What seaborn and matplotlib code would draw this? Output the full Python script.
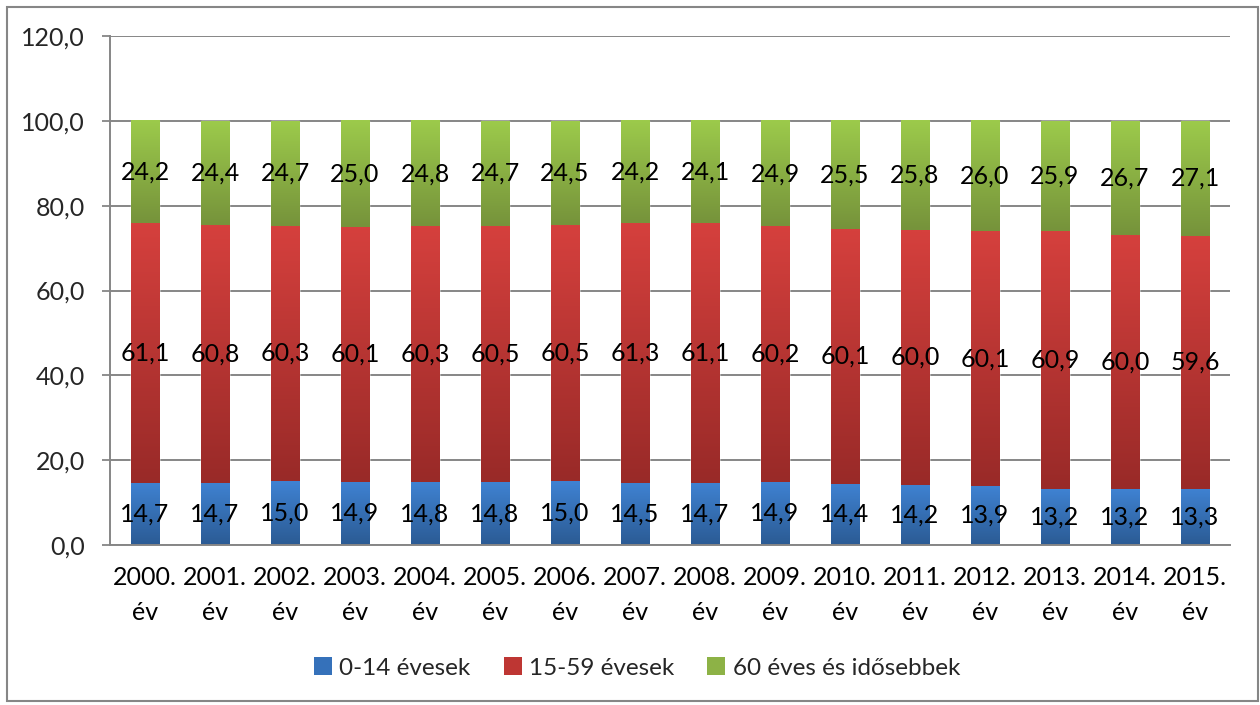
import numpy as np
import pandas as pd
import matplotlib
matplotlib.use("Agg")
import matplotlib.pyplot as plt
import seaborn as sns
from matplotlib.patches import Rectangle, Patch

years = ["2000.", "2001.", "2002.", "2003.", "2004.", "2005.", "2006.", "2007.",
         "2008.", "2009.", "2010.", "2011.", "2012.", "2013.", "2014.", "2015."]
x_labels = [y + "\név" for y in years]
young = [14.7, 14.7, 15.0, 14.9, 14.8, 14.8, 15.0, 14.5, 14.7, 14.9, 14.4, 14.2, 13.9, 13.2, 13.2, 13.3]
mid = [61.1, 60.8, 60.3, 60.1, 60.3, 60.5, 60.5, 61.3, 61.1, 60.2, 60.1, 60.0, 60.1, 60.9, 60.0, 59.6]
old = [24.2, 24.4, 24.7, 25.0, 24.8, 24.7, 24.5, 24.2, 24.1, 24.9, 25.5, 25.8, 26.0, 25.9, 26.7, 27.1]
series_names = ["0-14 évesek", "15-59 évesek", "60 éves és idősebbek"]
y_ticks = [0, 20, 40, 60, 80, 100, 120]

top_cols = ["#3F82D2", "#D5403D", "#9CCA4B"]
bot_cols = ["#2B5B94", "#992A28", "#76933B"]
mid_cols = ["#3571BA", "#BE3633", "#8DB246"]

sns.set_theme(style="white")
plt.rcParams["font.family"] = ["Lato", "DejaVu Sans"]
GRID = "#868686"
FS = 18

fig = plt.figure(figsize=(12.6, 7.05), dpi=100)
ax = fig.add_axes([110 / 1260, 1 - 545 / 705, 1120 / 1260, 509 / 705])

df = pd.DataFrame({"year": x_labels, "young": young, "mid": mid, "old": old})
df["c1"] = df["young"]
df["c2"] = df["young"] + df["mid"]
df["c3"] = df["young"] + df["mid"] + df["old"]

bw = 0.41
# stacked via cumulative totals (draw tallest first)
for col, c in [("c3", mid_cols[2]), ("c2", mid_cols[1]), ("c1", mid_cols[0])]:
    sns.barplot(data=df, x="year", y=col, color=c, width=bw, ax=ax,
                saturation=1, errorbar=None, zorder=3)

ax.set_xlim(-0.5, len(years) - 0.5)
ax.set_ylim(0, 120)

# gradient overlays, one per segment, using bar x positions from seaborn patches
patches = ax.patches
n = len(years)
seg_bounds = [(np.zeros(n), df["c1"].values), (df["c1"].values, df["c2"].values),
              (df["c2"].values, df["c3"].values)]
first_layer = patches[:n]  # tallest layer gives x extents
for s in range(3):
    t = np.array(matplotlib.colors.to_rgb(top_cols[s]))
    b = np.array(matplotlib.colors.to_rgb(bot_cols[s]))
    grad = np.linspace(0, 1, 64)[:, None]
    img = (t[None, :] * (1 - grad) + b[None, :] * grad)[:, None, :]
    for i, p in enumerate(first_layer):
        x0 = p.get_x()
        x1 = x0 + p.get_width()
        y0, y1 = seg_bounds[s][0][i], seg_bounds[s][1][i]
        ax.imshow(img, extent=(x0, x1, y0, y1), origin="upper", aspect="auto",
                  interpolation="bilinear", zorder=4)
        val = [young, mid, old][s][i]
        ax.text(i, (y0 + y1) / 2, f"{val:.1f}".replace(".", ","), ha="center",
                va="center", fontsize=FS, color="black", zorder=6)
ax.set_xlim(-0.5, len(years) - 0.5)
ax.set_ylim(0, 120)

ax.set_xlabel("")
ax.set_ylabel("")
ax.set_yticks(y_ticks)
ax.set_yticklabels([f"{v:.1f}".replace(".", ",") for v in y_ticks], fontsize=FS)
ax.set_xticks(range(n))
ax.set_xticklabels(x_labels, fontsize=FS, linespacing=1.65)
ax.set_xticks(np.arange(-0.5, n, 1.0), minor=True)
ax.tick_params(axis="x", which="major", length=0, pad=15, colors="black")
ax.tick_params(axis="x", which="minor", length=6, width=1.3, color=GRID, direction="out")
ax.tick_params(axis="y", which="major", length=6, width=1.3, color=GRID, pad=12,
               direction="out", left=True)
ax.grid(axis="y", color=GRID, linewidth=1.4, zorder=0)
ax.set_axisbelow(True)
for side in ["top", "right"]:
    ax.spines[side].set_visible(False)
for side in ["left", "bottom"]:
    ax.spines[side].set_color(GRID)
    ax.spines[side].set_linewidth(1.4)
    ax.spines[side].set_zorder(5)

handles = [Patch(facecolor=mid_cols[k], edgecolor="none") for k in range(3)]
fig.legend(handles, series_names, loc="center", bbox_to_anchor=(637 / 1260, 1 - 668 / 705),
           ncol=3, frameon=False, fontsize=17.5, handlelength=0.75, handleheight=0.75,
           handletextpad=0.3, columnspacing=1.35)

fig.add_artist(Rectangle((7 / 1260, 4 / 705), 1251 / 1260, 694 / 705,
                         transform=fig.transFigure, fill=False, edgecolor=GRID, linewidth=1.5))

fig.savefig("out.png", dpi=100)
